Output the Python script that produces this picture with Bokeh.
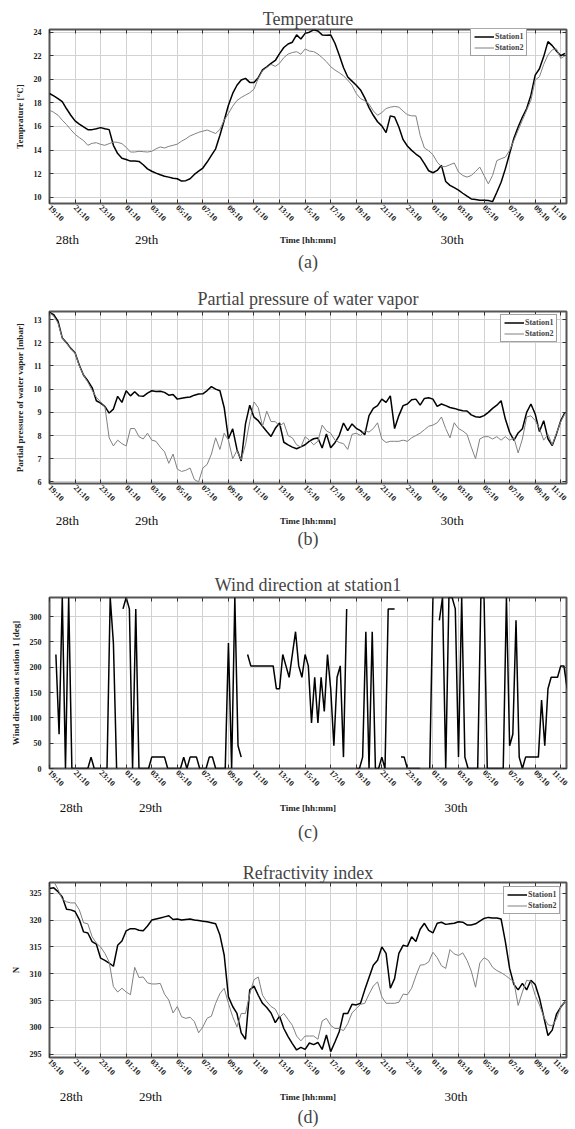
import math
import numpy as np
from bokeh.plotting import figure
from bokeh.models import (Range1d, LinearAxis, FixedTicker, SingleIntervalTicker,
                          CustomJSTickFormatter, Title)
from bokeh.layouts import column
from bokeh.embed import file_html
from bokeh.resources import INLINE

nan = float("nan")
FONT = "Liberation Serif"

# ---------------- data ----------------
tick_hours = [0, 2, 4, 6, 8, 10, 12, 14, 16, 18, 20, 22, 24, 26, 28, 30, 32, 34, 36, 38, 40]
tick_labels = ["19:10", "21:10", "23:10", "01:10", "03:10", "05:10", "07:10", "09:10",
               "11:10", "13:10", "15:10", "17:10", "19:10", "21:10", "23:10", "01:10",
               "03:10", "05:10", "07:10", "09:10", "11:10"]
day_labels = ["28th", "29th", "30th"]
series_names = ["Station1", "Station2"]

# 20-minute samples starting 28th 19:10
temp_station1 = [
    18.8, 18.6, 18.37, 18.1, 17.5, 16.95, 16.47, 16.2, 15.96, 15.73,
    15.73, 15.8, 15.9, 15.8, 15.73, 14.4, 13.7, 13.3, 13.2, 13.06,
    13.06, 13.03, 12.75, 12.4, 12.2, 12.04, 11.9, 11.78, 11.7, 11.6,
    11.56, 11.36, 11.4, 11.56, 11.93, 12.2, 12.47, 12.98, 13.55, 14.1,
    15.25, 16.5, 17.8, 18.8, 19.5, 19.94, 20.08, 19.74, 19.74, 20.14,
    20.8, 21.07, 21.36, 21.6, 22.18, 22.7, 23.0, 23.15, 23.77, 23.43,
    23.9, 24.0, 24.2, 24.1, 23.77, 23.74, 23.77, 23.06, 22.07, 21.0,
    20.2, 19.85, 19.5, 19.1, 18.43, 17.6, 16.95, 16.4, 16.05, 15.48,
    16.9, 16.8, 15.96, 14.88, 14.34, 13.97, 13.66, 13.4, 12.84, 12.24,
    12.07, 12.27, 12.7, 11.33, 11.0, 10.8, 10.6, 10.33, 10.08, 9.85,
    9.8, 9.74, 9.74, 9.71, 9.62, 10.42, 11.27, 12.4, 13.7, 15.0,
    15.96, 16.8, 17.52, 18.66, 20.36, 20.9, 21.93, 23.2, 22.86, 22.4,
    22.0, 22.2]
temp_station2 = [
    17.38, 17.2, 16.95, 16.53, 16.16, 15.73, 15.33, 15.05, 14.8, 14.4,
    14.57, 14.62, 14.48, 14.4, 14.54, 14.68, 14.65, 14.54, 14.23, 13.83,
    13.83, 13.89, 13.86, 13.83, 13.89, 14.1, 14.26, 14.17, 14.31, 14.4,
    14.5, 14.75, 14.95, 15.2, 15.35, 15.5, 15.6, 15.7, 15.55, 15.4,
    15.75, 16.53, 17.1, 17.72, 18.2, 18.46, 18.66, 18.86, 19.17, 20.08,
    20.73, 20.99, 21.27, 21.1, 21.36, 21.84, 22.15, 22.27, 22.35, 22.13,
    22.58, 22.4, 22.35, 22.15, 21.84, 21.5, 21.07, 20.79, 20.56, 20.3,
    19.94, 19.5, 18.8, 18.37, 18.18, 17.9, 17.32, 16.95, 17.18, 17.52,
    17.64, 17.7, 17.64, 17.3, 17.0, 16.9, 16.9, 15.25, 14.17, 13.94,
    13.6, 12.98, 12.58, 12.6, 12.75, 12.9, 12.13, 11.84, 11.7, 11.84,
    12.18, 12.55, 11.84, 11.13, 11.84, 13.1, 13.26, 13.4, 13.97, 14.82,
    15.68, 16.53, 17.38, 18.23, 19.94, 20.22, 21.27, 22.07, 22.5, 22.58,
    21.78, 22.0]

vapor_station1 = [
    13.31, 13.21, 12.93, 12.21, 12.0, 11.76, 11.57, 11.03, 10.6, 10.36,
    10.07, 9.5, 9.4, 9.26, 8.97, 9.14, 9.69, 9.43, 9.93, 9.71,
    9.89, 9.71, 9.69, 9.83, 9.93, 9.9, 9.91, 9.86, 9.74, 9.77,
    9.57, 9.61, 9.64, 9.66, 9.74, 9.79, 9.8, 9.94, 10.11, 10.0,
    9.93, 9.21, 7.86, 8.29, 7.4, 6.9, 8.5, 9.31, 8.79, 8.64,
    8.4, 8.17, 7.96, 8.31, 8.54, 7.71, 7.6, 7.5, 7.43, 7.51,
    7.6, 7.76, 7.86, 7.89, 7.46, 8.07, 7.47, 7.69, 8.0, 8.54,
    8.21, 8.5, 8.31, 8.21, 8.03, 8.86, 9.17, 9.29, 9.57, 9.43,
    9.71, 8.3, 8.86, 9.29, 9.36, 9.54, 9.57, 9.31, 9.6, 9.63,
    9.57, 9.26, 9.36, 9.29, 9.21, 9.17, 9.11, 9.07, 9.06, 8.89,
    8.81, 8.79, 8.86, 9.0, 9.17, 9.31, 9.5, 8.71, 8.14, 7.79,
    8.11, 8.29, 9.0, 9.36, 8.93, 8.17, 8.64, 7.86, 7.57, 8.07,
    8.64, 9.0]
vapor_station2 = [
    13.3, 13.15, 12.85, 12.2, 11.98, 11.75, 11.57, 11.0, 10.6, 10.3,
    9.95, 9.65, 9.45, 9.25, 7.9, 7.55, 7.8, 7.65, 7.55, 8.3,
    8.3, 7.95, 7.85, 8.1, 7.8, 7.75, 7.5, 7.3, 6.8, 7.2,
    6.55, 6.45, 6.5, 6.6, 6.1, 6.0, 6.6, 6.75, 7.2, 7.9,
    7.4, 8.1, 7.8, 7.0, 7.35, 6.95, 7.6, 8.6, 9.45, 9.2,
    8.4, 9.05, 8.6, 8.6, 8.4, 8.55, 8.0, 7.9, 7.6, 7.5,
    7.95, 7.8, 7.6, 7.75, 8.45, 8.2, 8.1, 7.8, 7.7, 7.65,
    7.4, 8.05, 8.1, 8.0, 8.2, 8.15, 8.3, 8.55, 7.85, 7.7,
    7.75, 7.75, 7.75, 7.8, 7.75, 7.9, 8.0, 8.1, 8.25, 8.4,
    8.45, 8.55, 8.8, 8.3, 7.9, 8.55, 8.3, 8.2, 8.05, 7.5,
    7.0, 7.85, 7.95, 7.95, 7.85, 7.95, 7.8, 7.95, 7.8, 7.9,
    7.25, 7.85, 8.8, 8.85, 8.65, 8.3, 7.8, 8.05, 7.6, 8.1,
    8.6, 8.95]

refr_station1 = [
    325.9, 326.0, 325.3, 324.3, 322.0, 321.9, 321.6, 320.1, 317.8, 317.6,
    316.0, 315.5, 312.9, 312.5, 312.0, 311.4, 315.3, 316.1, 318.0, 318.4,
    318.4, 318.1, 318.0, 318.9, 320.0, 320.2, 320.4, 320.6, 320.8, 320.1,
    320.2, 320.0, 320.1, 320.2, 320.0, 319.9, 319.8, 319.7, 319.5, 319.3,
    317.2, 313.5, 305.7, 303.9, 302.6, 299.0, 297.8, 307.0, 307.7, 306.0,
    304.5, 303.7, 302.7, 300.9, 302.1, 299.8, 298.3, 297.0, 295.8, 296.3,
    295.9, 297.1, 296.8, 297.2, 295.9, 298.6, 295.5, 297.3, 299.2, 302.6,
    302.6, 304.3, 304.2, 304.5, 307.0, 309.3, 311.6, 312.5, 315.0, 313.8,
    307.3, 309.1, 313.8, 315.3, 315.1, 316.9, 316.0, 318.3, 319.4, 318.1,
    317.6, 319.4, 319.6, 319.2, 319.3, 319.4, 319.7, 319.6, 319.1, 319.1,
    319.3, 319.8, 320.3, 320.5, 320.4, 320.4, 320.2, 316.0, 311.0, 308.0,
    307.0, 308.2, 307.0, 308.8, 308.0, 305.5, 302.0, 298.5, 299.5, 302.5,
    303.8, 304.8]
refr_station2 = [
    327.5, 327.2, 325.7, 323.9, 323.4, 323.2, 323.2, 321.9, 319.5, 319.3,
    316.9, 315.7, 315.0, 313.8, 312.2, 307.6, 306.6, 307.3, 306.6, 306.1,
    311.2, 309.3, 309.4, 308.3, 308.1, 308.1, 308.2, 306.2, 305.1, 302.7,
    303.9, 302.0, 301.7, 301.9, 301.1, 299.0, 300.1, 301.7, 302.1, 304.5,
    306.3, 307.3, 304.5, 302.0, 300.1, 302.6, 302.6, 306.3, 308.9, 309.4,
    306.0, 304.8, 303.9, 303.4, 301.9, 302.6, 301.5, 300.4, 298.4, 297.5,
    298.4, 298.4, 298.4, 297.8, 301.2, 301.7, 300.4, 299.8, 299.8, 299.4,
    300.7, 302.7, 303.5, 304.3, 304.5, 306.2, 307.7, 308.5, 305.7, 304.5,
    304.5, 304.5, 304.7, 306.2, 306.1, 307.3, 309.6, 311.6, 311.7, 312.2,
    314.0, 313.0, 311.5, 311.0, 314.5, 313.7, 313.4, 313.9, 312.5, 310.5,
    307.5, 312.0, 313.0, 312.5, 311.2, 310.6, 310.2, 309.7, 309.1, 308.5,
    304.1, 306.6, 308.8, 308.6, 306.0, 304.2, 302.0, 300.5, 300.3, 301.6,
    303.8, 304.8]

# 15-minute samples starting 28th 19:10 (nan = no record)
wind_station1 = [
    nan, nan, 225, 67.5, 337.5, 0, 337.5, 0, 0, 0,
    0, 0, 0, 22.5, 0, 0, 0, 0, 0, 337.5,
    247.5, 0, nan, 315, 337.5, 315, 0, 315, 0, 0,
    0, 0, 22.5, 22.5, 22.5, 22.5, 22.5, 0, 0, 0,
    0, 0, 22.5, 0, 22.5, 22.5, 22.5, 0, 0, 0,
    22.5, 22.5, 0, 0, 0, 0, 247.5, 0, 337.5, 45,
    22.5, nan, 225, 202.5, 202.5, 202.5, 202.5, 202.5, 202.5, 202.5,
    202.5, 157.5, 157.5, 225, 202.5, 180, 225, 270, 202.5, 180,
    225, 202.5, 90, 180, 90, 180, 112.5, 225, 157.5, 45,
    180, 202.5, 22.5, 315, nan, nan, 0, 0, 22.5, 270,
    0, 270, 0, 0, 22.5, 0, 315, 315, 315, nan,
    22.5, 22.5, 0, 0, 0, 0, 0, nan, nan, 0,
    337.5, nan, 292.5, 337.5, 0, 337.5, 337.5, 315, 22.5, 337.5,
    22.5, 0, 0, 0, 0, 337.5, 337.5, 0, 0, 0,
    0, 0, 0, 337.5, 45, 67.5, 292.5, 22.5, 0, 22.5,
    22.5, 22.5, 22.5, 22.5, 135, 45, 157.5, 180, 180, 180,
    202.5, 202.5, 157.5]

hours20 = np.arange(len(temp_station1)) * 20.0 / 60.0
hours15 = np.arange(len(wind_station1)) * 15.0 / 60.0

X_END = 40.45
BLACK = "#000000"
GRAY = "#808080"


def tick_only_axis(ticker):
    return LinearAxis(ticker=ticker, formatter=CustomJSTickFormatter(code="return ''"),
                      major_tick_in=4, major_tick_out=0, axis_line_color=None,
                      minor_tick_line_color=None, major_tick_line_color="#333333",
                      major_label_standoff=0, major_label_text_font_size="1px")


def make_panel(title, ylabel, yr, yint, frame_h, left, top, bottom, lines,
               legend_xy, caption, day_x, title_standoff, day_standoff, cap_standoff):
    p = figure(frame_width=517, frame_height=frame_h,
               x_range=Range1d(0, X_END), y_range=Range1d(*yr),
               output_backend="svg", toolbar_location=None,
               min_border_left=left, min_border_right=3,
               min_border_top=top, min_border_bottom=bottom,
               background_fill_color="white", border_fill_color="white")
    p.outline_line_color = "#555555"
    p.outline_line_width = 2

    xt = FixedTicker(ticks=tick_hours)
    yt = SingleIntervalTicker(interval=yint)

    xa = p.below[0]
    ya = p.left[0]

    # inner ticks on top and right edges
    p.add_layout(tick_only_axis(xt), "above")
    p.add_layout(tick_only_axis(yt), "right")

    p.add_layout(Title(text=title, text_font=FONT, text_font_size="18px",
                       text_font_style="normal", align="center",
                       standoff=title_standoff), "above")

    xa.ticker = xt
    xa.major_label_overrides = dict(zip(tick_hours, tick_labels))
    xa.major_label_orientation = -math.pi / 4
    xa.major_label_text_font = FONT
    xa.major_label_text_font_size = "8px"
    xa.major_label_text_font_style = "bold"
    xa.major_label_text_color = "#222222"
    xa.major_label_standoff = 3
    xa.major_tick_in = 4
    xa.major_tick_out = 0
    xa.major_tick_line_color = "#333333"
    xa.axis_line_color = None
    xa.minor_tick_line_color = None

    # day names row + "Time [hh:mm]" on the same row
    day_axis = LinearAxis(ticker=FixedTicker(ticks=list(day_x)),
                          major_label_overrides=dict(zip(day_x, day_labels)),
                          major_tick_line_color=None, minor_tick_line_color=None,
                          axis_line_color=None,
                          major_label_text_font=FONT, major_label_text_font_size="13px",
                          major_label_text_color="#111111",
                          major_label_standoff=day_standoff,
                          axis_label="Time [hh:mm]", axis_label_text_font=FONT,
                          axis_label_text_font_size="9px", axis_label_text_font_style="bold",
                          axis_label_text_color="#222222", axis_label_standoff=-15)
    p.add_layout(day_axis, "below")

    p.add_layout(Title(text=caption, text_font=FONT, text_font_size="18px",
                       text_font_style="normal", align="center",
                       standoff=cap_standoff), "below")

    ya.ticker = yt
    ya.axis_label = ylabel
    ya.axis_label_text_font = FONT
    ya.axis_label_text_font_size = "9px"
    ya.axis_label_text_font_style = "bold"
    ya.axis_label_text_color = "#222222"
    ya.axis_label_standoff = 6
    ya.major_label_text_font = FONT
    ya.major_label_text_font_size = "8px"
    ya.major_label_text_font_style = "bold"
    ya.major_label_text_color = "#222222"
    ya.major_label_standoff = 4
    ya.major_tick_in = 4
    ya.major_tick_out = 0
    ya.major_tick_line_color = "#333333"
    ya.axis_line_color = None
    ya.minor_tick_line_color = None

    p.xgrid.ticker = xt
    p.ygrid.ticker = yt
    p.xgrid.grid_line_color = "#d2d2d2"
    p.ygrid.grid_line_color = "#d2d2d2"

    for xs, ys, color, width, name in lines:
        if name is None:
            p.line(xs, np.array(ys, dtype=float), line_color=color, line_width=width)
        else:
            p.line(xs, np.array(ys, dtype=float), line_color=color, line_width=width,
                   legend_label=name)

    if legend_xy is not None:
        lg = p.legend[0]
        lg.location = legend_xy
        lg.label_text_font = FONT
        lg.label_text_font_size = "8px"
        lg.label_text_font_style = "bold"
        lg.glyph_width = 20
        lg.glyph_height = 9
        lg.label_height = 9
        lg.label_standoff = 1
        lg.spacing = 2
        lg.padding = 3
        lg.margin = 0
        lg.border_line_color = "#444444"
        lg.border_line_width = 1.5
        lg.background_fill_alpha = 1.0
    return p


p1 = make_panel("Temperature", "Temprature [\u00b0C]", (9.46, 24.23), 2, 174, 47, 29, 78,
                [(hours20, temp_station1, BLACK, 1.5, series_names[0]),
                 (hours20, temp_station2, GRAY, 1.0, series_names[1])],
                (421, 147), "(a)", (1.4, 7.6, 31.5), 2, -4, 4)
p2 = make_panel("Partial pressure of water vapor", "Partial pressure of water vapor [mbar]",
                (5.93, 13.35), 1, 172, 47, 30, 84,
                [(hours20, vapor_station1, BLACK, 1.5, series_names[0]),
                 (hours20, vapor_station2, GRAY, 1.0, series_names[1])],
                (451, 141), "(b)", (1.4, 7.6, 31.5), 6, -3, -4)
p3 = make_panel("Wind direction at station1", "Wind direction at station 1 [deg]",
                (0, 337.5), 50, 171, 48, 30, 87,
                [(hours15, wind_station1, BLACK, 1.5, None)],
                None, "(c)", (1.7, 7.9, 31.8), 6, -1, 9)
p4 = make_panel("Refractivity index", "N", (294.4, 327.0), 5, 175, 49, 27, 72,
                [(hours20, refr_station1, BLACK, 1.5, series_names[0]),
                 (hours20, refr_station2, GRAY, 1.0, series_names[1])],
                (454, 143), "(d)", (1.7, 7.9, 31.8), 0, -1, 0)

layout = column(p1, p2, p3, p4, spacing=0)
open("out.html", "w").write(file_html(layout, INLINE, "Meteorological measurements"))
